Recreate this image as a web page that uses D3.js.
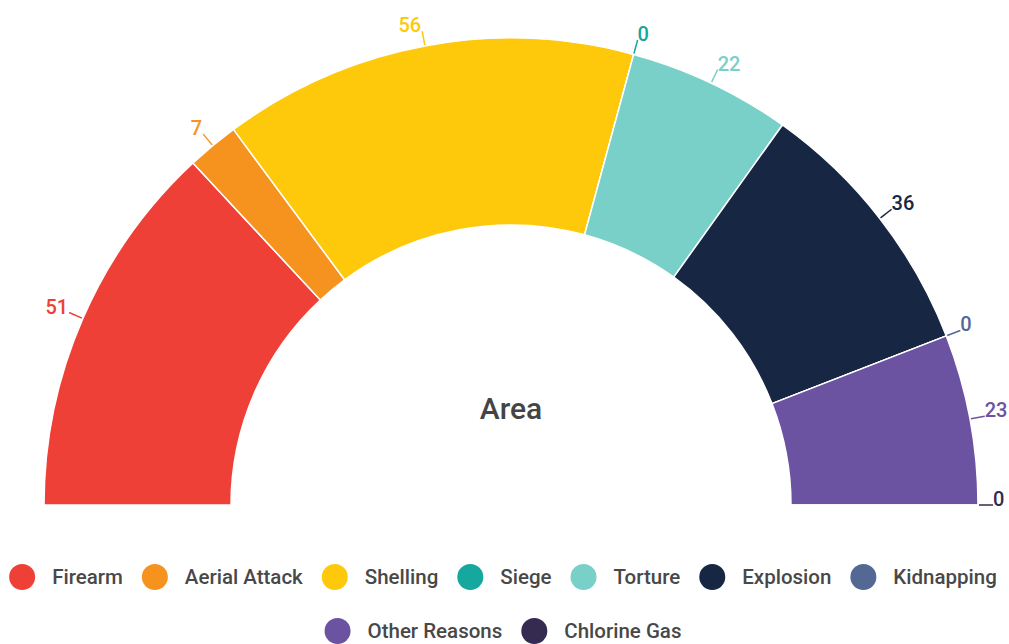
<!DOCTYPE html>
<html lang="en">
<head>
    <title>Area</title>
    <meta charset="utf-8">
    <script src="https://d3js.org/d3.v7.min.js"></script>
    <style>
        body { margin: 0; background: #fff; }
        svg { display: block; font-family: Roboto, "Noto Sans", sans-serif; }
    </style>
</head>
<body>
    <div id="container1"></div>
    <script>
        // Data
        const categories = ["Firearm", "Aerial Attack", "Shelling", "Siege", "Torture", "Explosion", "Kidnapping", "Other Reasons", "Chlorine Gas"];
        const values = [51, 7, 56, 0, 22, 36, 0, 23, 0];
        const colors = ["#ee4036", "#f6931f", "#fec90b", "#14a89e", "#79d0c8", "#172643", "#536893", "#6b53a2", "#352a4f"];
        const centerTitle = "Area";

        // Chart dimensions
        const width = 1009;
        const height = 644;
        const cx = 511, cy = 505;
        const outerR = 467, innerR = 280;
        const leader = 15;

        const svg = d3.select("#container1")
            .append("svg")
            .attr("width", width)
            .attr("height", height);

        const colorScale = d3.scaleOrdinal().domain(categories).range(colors);

        const pie = d3.pie()
            .sort(null)
            .value(d => d.value)
            .startAngle(-Math.PI / 2)
            .endAngle(Math.PI / 2);

        const rows = categories.map((c, i) => ({ name: c, value: values[i] }));
        const arcs = pie(rows);

        const arc = d3.arc().innerRadius(innerR).outerRadius(outerR);

        const g = svg.append("g").attr("transform", `translate(${cx},${cy})`);

        g.selectAll("path.slice")
            .data(arcs)
            .enter()
            .append("path")
            .attr("class", "slice")
            .attr("fill", d => colorScale(d.data.name))
            .attr("stroke", "#fff")
            .attr("stroke-width", 1.5)
            .attr("stroke-linejoin", "round")
            .attr("d", arc);

        // Labels with leader lines
        const pt = (a, r) => [r * Math.sin(a), -r * Math.cos(a)];
        const mid = d => (d.startAngle + d.endAngle) / 2;

        const labels = g.selectAll("g.label")
            .data(arcs)
            .enter()
            .append("g")
            .attr("class", "label");

        labels.append("line")
            .attr("x1", d => pt(mid(d), outerR + 1)[0])
            .attr("y1", d => pt(mid(d), outerR + 1)[1])
            .attr("x2", d => pt(mid(d), outerR + leader)[0])
            .attr("y2", d => pt(mid(d), outerR + leader)[1])
            .attr("stroke", d => colorScale(d.data.name))
            .attr("stroke-width", 1.5);

        labels.append("text")
            .attr("x", d => pt(mid(d), outerR + leader)[0])
            .attr("y", d => pt(mid(d), outerR + leader)[1])
            .attr("text-anchor", d => mid(d) < 0 ? "end" : "start")
            .attr("dx", d => mid(d) < 0 ? -1 : 0)
            .attr("dy", 1)
            .style("font-size", "20px")
            .style("font-weight", 500)
            .style("fill", d => colorScale(d.data.name))
            .text(d => d.data.value);

        // Center title
        svg.append("text")
            .attr("x", cx)
            .attr("y", 419)
            .attr("text-anchor", "middle")
            .style("font-size", "30px")
            .style("font-weight", 500)
            .style("fill", "#444")
            .text(centerTitle);

        // Legend
        const legend = svg.append("g");
        const legendR = 13, textGap = 17, itemGap = 19, maxRow = 1000;
        const legendCenter = 503;
        const rowY = [577, 631];

        const items = categories.map(c => {
            const it = legend.append("g");
            it.append("circle")
                .attr("cx", legendR)
                .attr("cy", 0)
                .attr("r", legendR)
                .attr("fill", colorScale(c));
            const t = it.append("text")
                .attr("x", legendR * 2 + textGap)
                .attr("y", 0)
                .attr("dy", "0.35em")
                .style("font-size", "20.5px")
                .style("font-weight", 500)
                .style("fill", "#484848")
                .text(c);
            return { g: it, w: legendR * 2 + textGap + t.node().getComputedTextLength() };
        });

        const lines = [[]];
        let lineW = 0;
        items.forEach(it => {
            const add = (lines[lines.length - 1].length ? itemGap : 0) + it.w;
            if (lineW + add > maxRow && lines[lines.length - 1].length) {
                lines.push([it]);
                lineW = it.w;
            } else {
                lines[lines.length - 1].push(it);
                lineW += add;
            }
        });

        lines.forEach((line, li) => {
            const total = d3.sum(line, d => d.w) + itemGap * (line.length - 1);
            let x = legendCenter - total / 2;
            line.forEach(it => {
                it.g.attr("transform", `translate(${x},${rowY[li]})`);
                x += it.w + itemGap;
            });
        });
    </script>
</body>
</html>
